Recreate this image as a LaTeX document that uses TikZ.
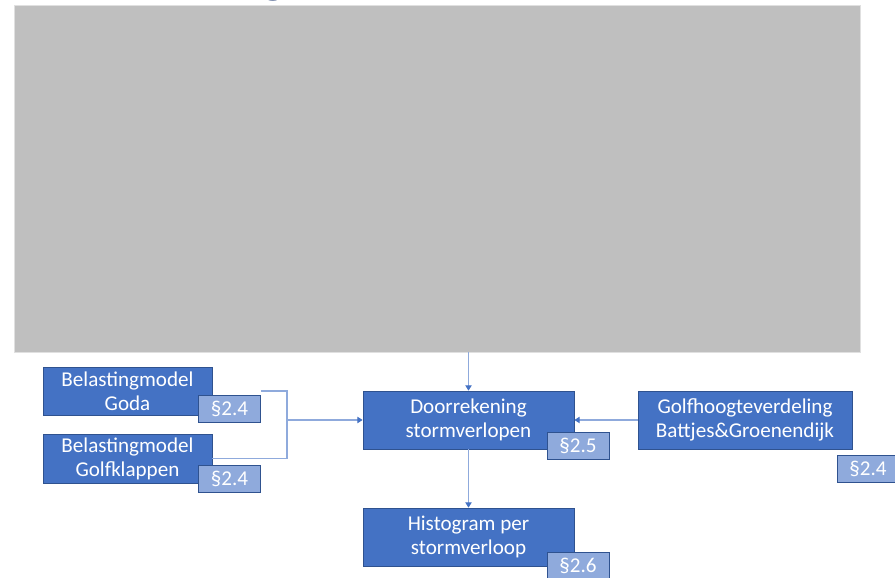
\documentclass[tikz,border=0pt]{standalone}
\usepackage{fontspec}
\setmainfont{Carlito}
\usetikzlibrary{arrows.meta}
\definecolor{boxblue}{HTML}{4472C4}
\definecolor{boxline}{HTML}{2F528F}
\definecolor{secblue}{HTML}{8FAADC}
\definecolor{linkblue}{HTML}{8FAADC}
\definecolor{titleblue}{HTML}{0E2A66}
\definecolor{photo}{HTML}{BFBFBF}

\begin{document}
\begin{tikzpicture}[font=\fontsize{12}{13.7}\selectfont,
  box/.style={draw=boxline, line width=0.4pt, fill=boxblue, text=white, align=center, inner sep=2pt, minimum width=#1},
  box/.default=4.22cm,
  sec/.style={draw=boxline, line width=0.5pt, fill=secblue, text=white, inner sep=0pt, minimum width=1.24cm, minimum height=0.54cm},
  link/.style={draw=linkblue, line width=0.6pt},
  flow/.style={link, -{Triangle[length=3pt, width=3.6pt, color=boxblue]}}]
\useasboundingbox (0,0) rectangle (17.9,11.56);

% ---- title (cut off) and picture area
\node[font=\fontsize{32}{32}\selectfont\bfseries, text=titleblue, anchor=base] (title) at (5.48,11.72) {g};
\node[fill=photo, draw=black!12, line width=0.4pt, minimum width=16.92cm, minimum height=6.94cm, inner sep=0pt] (pic) at (8.74,7.99) {};

% ---- load models (left)
\node[box=3.38cm, minimum height=0.96cm] (goda) at (2.55,3.74) {Belastingmodel\\Goda};
\node[sec] (gsec) at (4.59,3.38) {§2.4};
\node[box=3.38cm, minimum height=0.98cm] (klap) at (2.55,2.39) {Belastingmodel\\Golfklappen};
\node[sec] (ksec) at (4.59,1.99) {§2.4};

% ---- computation and histogram (middle)
\node[box, minimum height=1.16cm] (door) at (9.37,3.16) {Doorrekening\\stormverlopen};
\node[sec] (dsec) at (11.56,2.65) {§2.5};
\node[box, minimum height=1.16cm] (hist) at (9.37,0.82) {Histogram per\\stormverloop};
\node[sec] (hsec) at (11.56,0.25) {§2.6};

% ---- wave height distribution (right)
\node[box=4.28cm, minimum height=1.16cm] (golf) at (14.9,3.16) {Golfhoogteverdeling\\Battjes\&Groenendijk};
\node[sec] (gosec) at (17.36,2.18) {§2.4};

% ---- connectors
\coordinate (brk) at (5.74,3.16);
\draw[link] (gsec.east |- goda.east) -| (brk) |- (klap.east);
\draw[flow] (brk) -- (door.west);
\draw[flow] (pic.south -| door.north) -- (door.north);
\draw[flow] (golf.west) -- (door.east);
\draw[flow] (door.south) -- (hist.north);
\end{tikzpicture}
\end{document}
